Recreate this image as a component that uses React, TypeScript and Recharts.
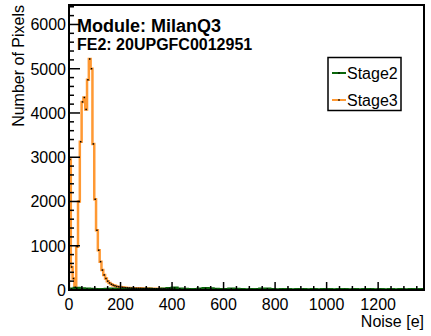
import React from 'react';
import { ComposedChart, Line, XAxis, YAxis } from 'recharts';

// Stage3 noise histogram, 7 e wide bins from 0
const STAGE3_BIN = 7;
const stage3Counts = [
  2950, 520, 260, 60, 980, 2000, 3350, 4250, 4350, 4080,
  4750, 5220, 5000, 3300, 2050, 1350, 900, 640, 450, 340,
  260, 200, 160, 130, 110, 95, 80, 72, 66, 60,
  55, 50, 48, 45, 42, 40, 40, 38, 38, 37,
  36, 35, 34, 33, 32, 31, 30, 29, 28, 27,
  26, 25, 24, 23, 22, 21, 15, 12, 10, 8,
  6, 5, 4, 3, 2, 1,
];

// Stage2 noise histogram, 20 e wide bins from 0
const STAGE2_BIN = 20;
const stage2Counts = [
  25, 40, 30, 20, 15, 12, 10, 15, 20, 12,
  10, 15, 10, 8, 12, 15, 10, 12, 20, 35,
  45, 25, 15, 10, 12, 20, 35, 30, 15, 10,
  12, 25, 15, 10, 8, 10, 12, 20, 25, 10,
  8, 10, 12, 8, 10, 12, 8, 10, 8, 12,
  10, 8, 10, 12, 8, 10, 8, 10, 12, 8,
  10, 8, 10, 8, 10, 8, 10, 8, 10,
];

const xTicks = [
  0, 50, 100, 150, 200, 250, 300, 350, 400, 450, 500, 550, 600, 650,
  700, 750, 800, 850, 900, 950, 1000, 1050, 1100, 1150, 1200, 1250, 1300, 1350,
];
const xLabels = [0, 200, 400, 600, 800, 1000, 1200];
const yTicks = [
  0, 200, 400, 600, 800, 1000, 1200, 1400, 1600, 1800, 2000, 2200, 2400, 2600,
  2800, 3000, 3200, 3400, 3600, 3800, 4000, 4200, 4400, 4600, 4800, 5000,
  5200, 5400, 5600, 5800, 6000, 6200, 6400,
];
const yLabels = [0, 1000, 2000, 3000, 4000, 5000, 6000];

const FONT = '"Liberation Sans", Arial, Helvetica, sans-serif';
const ORANGE = '#ff9933';
const GREEN = '#0a660a';

function toSteps(counts: number[], width: number) {
  const pts = [{ x: 0, y: 0 }];
  counts.forEach((c, i) => pts.push({ x: i * width, y: c }));
  const end = counts.length * width;
  pts.push({ x: end, y: counts[counts.length - 1] });
  pts.push({ x: end, y: 0 });
  return pts;
}

function toCenters(counts: number[], width: number) {
  return counts.map((c, i) => ({ x: (i + 0.5) * width, y: c }));
}

const stage3Steps = toSteps(stage3Counts, STAGE3_BIN);
const stage2Steps = toSteps(stage2Counts, STAGE2_BIN);
const stage3Dots = toCenters(stage3Counts, STAGE3_BIN);
const stage2Dots = toCenters(stage2Counts, STAGE2_BIN);

const XTick = (props: any) => {
  const { x, y, payload } = props;
  const v = payload.value;
  const major = v % 200 === 0;
  return (
    <g>
      <line x1={x} x2={x} y1={y} y2={y - (major ? 8 : 4)} stroke="#000" strokeWidth={1.5} />
      {xLabels.includes(v) && (
        <text x={x} y={y + 20} textAnchor="middle" fontSize={16} fontFamily={FONT} fill="#000">
          {v}
        </text>
      )}
    </g>
  );
};

const YTick = (props: any) => {
  const { x, y, payload } = props;
  const v = payload.value;
  const major = v % 1000 === 0;
  return (
    <g>
      <line x1={x} x2={x + (major ? 11 : 5)} y1={y} y2={y} stroke="#000" strokeWidth={1.5} />
      {yLabels.includes(v) && (
        <text x={x - 3} y={y + 6} textAnchor="end" fontSize={16} fontFamily={FONT} fill="#000">
          {v}
        </text>
      )}
    </g>
  );
};

const MarkerDot = (props: any) => {
  const { cx, cy, index } = props;
  if (cx == null || cy == null) return <g key={index} />;
  return <rect key={index} x={cx - 0.75} y={cy - 0.75} width={1.5} height={1.5} fill="#000" />;
};

export default function App() {
  return (
    <div style={{ position: 'absolute', left: 0, top: 0, width: 431, height: 336, background: '#fff', fontFamily: FONT }}>
      <ComposedChart width={431} height={336} margin={{ top: 5, right: 7, left: 0, bottom: 0 }}>
        <XAxis
          type="number"
          dataKey="x"
          domain={[0, 1378]}
          allowDataOverflow
          ticks={xTicks}
          interval={0}
          tick={<XTick />}
          tickSize={0}
          tickMargin={0}
          tickLine={false}
          axisLine={false}
          height={46}
        />
        <YAxis
          type="number"
          domain={[0, 6440]}
          allowDataOverflow
          ticks={yTicks}
          interval={0}
          tick={<YTick />}
          tickSize={0}
          tickMargin={0}
          tickLine={false}
          axisLine={false}
          width={69}
        />
        <Line
          data={stage3Steps}
          dataKey="y"
          type="stepAfter"
          stroke={ORANGE}
          strokeWidth={2.5}
          dot={false}
          isAnimationActive={false}
        />
        <Line
          data={stage3Dots}
          dataKey="y"
          stroke="none"
          dot={<MarkerDot />}
          activeDot={false}
          isAnimationActive={false}
        />
        <Line
          data={stage2Steps}
          dataKey="y"
          type="stepAfter"
          stroke={GREEN}
          strokeWidth={3}
          dot={false}
          isAnimationActive={false}
        />
        <Line
          data={stage2Dots}
          dataKey="y"
          stroke="none"
          dot={<MarkerDot />}
          activeDot={false}
          isAnimationActive={false}
        />
      </ComposedChart>
      <svg width={431} height={336} style={{ position: 'absolute', left: 0, top: 0, pointerEvents: 'none' }}>
        <rect x={69} y={5} width={355} height={285} fill="none" stroke="#000" strokeWidth={2} />
        <text x={77} y={31.5} fontSize={18} fontWeight="bold" fontFamily={FONT} fill="#000">
          Module: MilanQ3
        </text>
        <text x={77} y={50} fontSize={16} fontWeight="bold" fontFamily={FONT} fill="#000">
          FE2: 20UPGFC0012951
        </text>
        <text transform="rotate(-90)" x={-5} y={24} textAnchor="end" fontSize={16} fontFamily={FONT} fill="#000">
          Number of Pixels
        </text>
        <text x={424} y={327} textAnchor="end" fontSize={16} fontFamily={FONT} fill="#000">
          Noise [e]
        </text>
        <rect x={328} y={57.5} width={73} height={53} fill="#fff" stroke="#000" strokeWidth={1.5} />
        <line x1={332} x2={346} y1={73} y2={73} stroke={GREEN} strokeWidth={2} />
        <rect x={338.25} y={72.25} width={1.5} height={1.5} fill="#000" />
        <text x={347} y={79} fontSize={16} fontFamily={FONT} fill="#000">
          Stage2
        </text>
        <line x1={332} x2={346} y1={100} y2={100} stroke={ORANGE} strokeWidth={2} />
        <rect x={338.25} y={99.25} width={1.5} height={1.5} fill="#000" />
        <text x={347} y={106} fontSize={16} fontFamily={FONT} fill="#000">
          Stage3
        </text>
      </svg>
    </div>
  );
}
